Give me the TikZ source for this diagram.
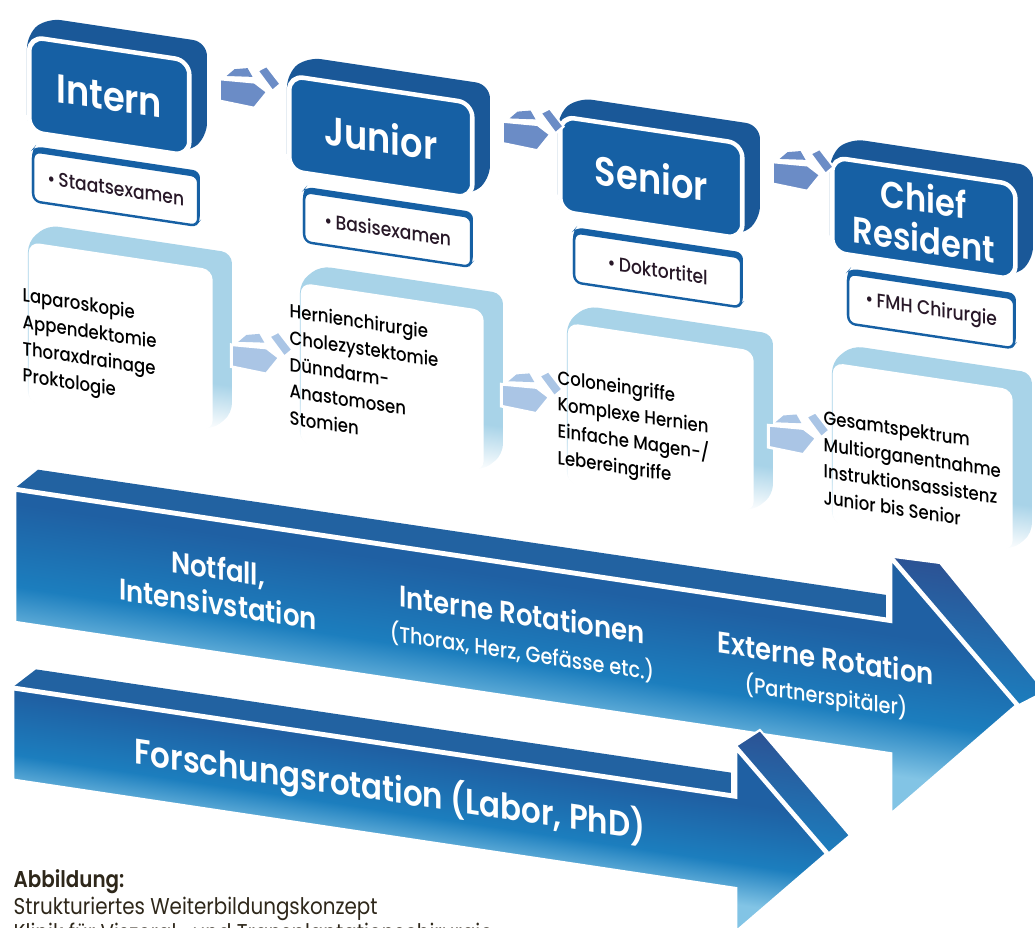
\documentclass[tikz,border=0pt]{standalone}
\usepackage{fontspec}
\setmainfont{Poppins}[FakeStretch=0.87, BoldFont={Poppins SemiBold}]
\newfontfamily\mediumfont{Poppins Medium}[FakeStretch=0.87]
\usetikzlibrary{positioning}

\definecolor{blockblue}{RGB}{22,96,164}
\definecolor{blockside}{RGB}{26,88,152}
\definecolor{panelblue}{RGB}{168,211,232}
\definecolor{stepblue}{RGB}{107,140,198}
\definecolor{steplight}{RGB}{170,197,229}
\definecolor{arrowdark}{RGB}{31,96,163}
\definecolor{arrowmid}{RGB}{28,126,190}
\definecolor{arrowlight}{RGB}{130,196,229}
\definecolor{arrowtop}{RGB}{34,98,161}
\definecolor{stripdark}{RGB}{44,82,148}
\definecolor{examtext}{RGB}{40,24,40}
\definecolor{captext}{RGB}{46,39,26}

\pgfdeclareverticalshading{panelshade}{100bp}{color(0bp)=(white); color(25bp)=(white); color(38bp)=(panelblue); color(100bp)=(panelblue)}
\pgfdeclareverticalshading{rotshade}{100bp}{color(0bp)=(arrowlight); color(33bp)=(arrowlight); color(44bp)=(arrowmid); color(60bp)=(arrowdark); color(100bp)=(arrowdark)}

\tikzset{
  pics/steparrow/.style={code={
    \fill[#1] (7,15) -- (15,23) -- (28,26) -- (33,18) -- cycle;
    \filldraw[fill=#1, draw=white, line width=0.6pt] (38,25) -- (47,31) -- (61,15) -- (53,7) -- cycle;
    \filldraw[fill=#1, draw=white, line width=0.8pt] (0,-11) -- (0,11) -- (35,13) -- (48,5) -- (35,-13) -- cycle;
  }}
}

\begin{document}
\begin{tikzpicture}[x=0.01cm, y=0.01cm,
  stagebox/.style={rectangle, rounded corners=4pt, fill=blockblue, draw=white, line width=1.3pt,
    anchor=north west, minimum height=0.95cm, inner sep=0pt, text=white, align=center,
    font=\bfseries\fontsize{11.5}{12.5}\selectfont},
  exambox/.style={rectangle, rounded corners=2pt, fill=white, draw=blockblue, line width=0.7pt,
    anchor=north west, minimum height=0.5cm, inner sep=0pt, text=examtext,
    font=\mediumfont\fontsize{5.6}{7}\selectfont},
  panelface/.style={rectangle, rounded corners=3pt, fill=white, anchor=north west,
    minimum height=1.61cm, inner sep=0pt},
  skills/.style={anchor=north west, inner sep=0pt, align=left, text=black,
    font=\mediumfont\fontsize{5.4}{7.6}\selectfont},
  rotlabel/.style={text=white, align=center, inner sep=0pt,
    font=\bfseries\fontsize{8.5}{10}\selectfont},
  subline/.style={font=\mediumfont\mdseries\fontsize{6.3}{7}\selectfont},
  caption/.style={anchor=north west, inner sep=0pt, text=captext,
    font=\fontsize{6.5}{7.5}\selectfont}
]
\useasboundingbox (0,0) rectangle (1035,-928);
\clip (0,0) rectangle (1035,-928);

\begin{scope}[transform canvas={yslant=-0.15}]
  % skill panels
  \foreach \x/\w/\id in {28/184/intern, 300/183/junior, 567/186/senior, 832/180/chief} {
    \shade[shading=panelshade, rounded corners=3pt] (\x,-398) -- (\x,-237) -- (\x+20,-218)
      -- (\x+\w+20,-218) -- (\x+\w+20,-379) -- (\x+\w,-398) -- cycle;
    \node[panelface, minimum width=\w*0.01cm] (panel\id) at (\x,-237) {};
  }

  % stage blocks
  \foreach \x/\w/\id/\name in {27/160/intern/Intern, 287/183/junior/Junior, 558/182/senior/Senior} {
    \fill[blockside, rounded corners=4pt] (\x,-125) -- (\x,-30) -- (\x+20,-11)
      -- (\x+\w+20,-11) -- (\x+\w+20,-106) -- (\x+\w,-125) -- cycle;
    \node[stagebox, minimum width=\w*0.01cm] (\id) at (\x,-30) {\name};
  }
  \fill[blockside, rounded corners=4pt] (830,-125) -- (830,-30) -- (850,-11)
    -- (1033,-11) -- (1033,-106) -- (1013,-125) -- cycle;
  \node[stagebox, minimum width=1.83cm, font=\bfseries\fontsize{10.5}{11.5}\selectfont] (chief) at (830,-30) {Chief\\Resident};

  % exams
  \foreach \x/\w/\id/\exam in {32/165/intern/Staatsexamen, 303/167/junior/Basisexamen,
      573/167/senior/Doktortitel, 847/166/chief/FMH Chirurgie} {
    \fill[blockblue, rounded corners=2pt] (\x,-195) -- (\x,-145) -- (\x+3,-141)
      -- (\x+\w+3,-141) -- (\x+\w+3,-191) -- (\x+\w,-195) -- cycle;
    \node[exambox, minimum width=\w*0.01cm] (exam\id) at (\x,-145) {•\,\exam};
  }

  % step arrows
  \path (intern.north east) ++(28,-27) pic {steparrow=stepblue};
  \path (junior.north east) ++(28,-27) pic {steparrow=stepblue};
  \path (senior.north east) ++(28,-27) pic {steparrow=stepblue};
  \path (panelintern.north east) ++(18,-84) pic {steparrow=steplight};
  \path (paneljunior.north east) ++(17,-83) pic {steparrow=steplight};
  \path (panelsenior.north east) ++(14,-84) pic {steparrow=steplight};

  \node[skills] (skillsintern) at (22,-283) {Laparoskopie\\Appendektomie\\Thoraxdrainage\\Proktologie};
  \node[skills] (skillsjunior) at (289,-259) {Hernienchirurgie\\Cholezystektomie\\Dünndarm-\\Anastomosen\\Stomien};
  \node[skills] (skillssenior) at (557,-285) {Coloneingriffe\\Komplexe Hernien\\Einfache Magen-/\\Lebereingriffe};
  \node[skills] (skillschief) at (823,-286) {Gesamtspektrum\\Multiorganentnahme\\Instruktionsassistenz\\Junior bis Senior};

  % rotation arrow
  \fill[arrowtop] (14,-487) -- (38,-464) -- (886,-462) -- (886,-487) -- cycle;
  \shadedraw[top color=stripdark, bottom color=arrowmid, draw=white, line width=0.6pt]
    (890,-423) -- (940,-422) -- (1045,-535) -- (1018,-553) -- cycle;
  \shadedraw[shading=rotshade, draw=white, line width=1.4pt] (14,-621) -- (14,-487) -- (890,-487)
    -- (890,-423) -- (1018,-553) -- (890,-683) -- (890,-621) -- cycle;

  % research arrow
  \fill[arrowtop] (12,-686) -- (36,-664) -- (731,-663) -- (731,-686) -- cycle;
  \shadedraw[top color=stripdark, bottom color=arrowmid, draw=white, line width=0.6pt]
    (735,-636) -- (760,-616) -- (850,-708) -- (828,-730) -- cycle;
  \shadedraw[shading=rotshade, draw=white, line width=1.4pt] (12,-779) -- (12,-686) -- (735,-686)
    -- (735,-636) -- (828,-730) -- (735,-824) -- (735,-779) -- cycle;

  \node[rotlabel] (notfall) at (218,-553) {Notfall,\\Intensivstation};
  \node[rotlabel] (intern_rot) at (522,-555) {Interne Rotationen\\{\mediumfont\mdseries\fontsize{6.3}{7}\selectfont(Thorax, Herz, Gefässe etc.)}};
  \node[rotlabel] (extern_rot) at (826,-554) {Externe Rotation\\{\mediumfont\mdseries\fontsize{6.3}{7}\selectfont(Partnerspitäler)}};
  \node[rotlabel, font=\bfseries\fontsize{10.1}{12}\selectfont] (forschung) at (390,-732) {Forschungsrotation (Labor, PhD)};
\end{scope}

\node[caption, font=\bfseries\fontsize{6.5}{7.5}\selectfont] (capttitle) at (13,-869) {Abbildung:};
\node[caption] (captline) at (13,-896) {Strukturiertes Weiterbildungskonzept};
\node[caption] (captclinic) at (13,-922) {Klinik für Viszeral- und Transplantationschirurgie};
\end{tikzpicture}
\end{document}
